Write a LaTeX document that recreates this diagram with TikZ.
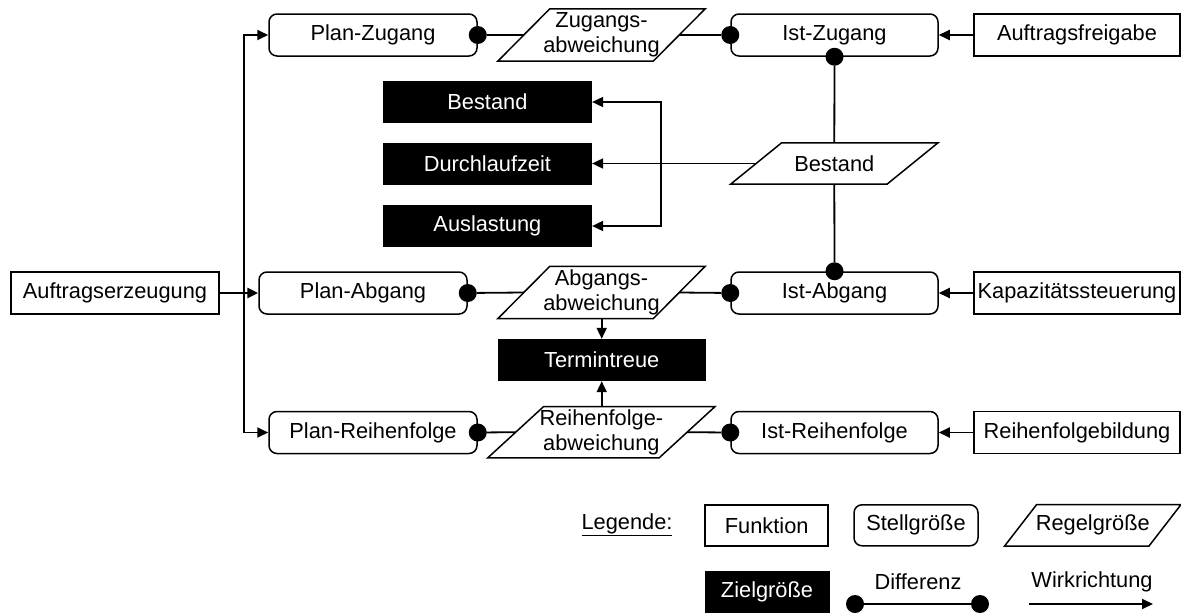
\documentclass[tikz,border=0pt]{standalone}
\usepackage{fontspec}
\setmainfont{Liberation Sans}
\usetikzlibrary{arrows.meta,calc}
\newcommand\regelbox[2]{%
  \draw[boxline] ([xshift=-#2]#1.south west) -- ([xshift=-#2]#1.south east)
    -- ([xshift=#2]#1.north east) -- ([xshift=#2]#1.north west) -- cycle;}
\begin{document}
\begin{tikzpicture}[x=1pt,y=-1pt,
  every node/.style={font=\fontsize{21.8}{24.5}\selectfont, inner sep=0pt, align=center},
  boxline/.style={line width=1.5pt},
  func/.style={draw, boxline, rectangle, minimum height=42pt},
  stell/.style={func, rounded corners=8pt},
  ziel/.style={rectangle, fill=black, text=white, minimum height=42pt},
  regel/.style={rectangle, minimum height=52pt},
  arr/.style={line width=1.8pt, -{Triangle[length=11pt,width=10pt]}},
  con/.style={line width=1.8pt},
  dotn/.style={circle, fill=black, inner sep=0pt, minimum size=18pt}]
\useasboundingbox (0,0) rectangle (1181,613);

% Funktionen
\node[func, minimum width=208pt] (auf) at (115,293) {Auftragserzeugung};
\node[func, minimum width=206pt] (afg) at (1077,35) {Auftragsfreigabe};
\node[func, minimum width=206pt] (kap) at (1077,293) {Kapazitätssteuerung};
\node[func, minimum width=206pt] (rfb) at (1077,432.5) {Reihenfolgebildung};

% Stellgroessen
\node[stell, minimum width=208pt] (pzu) at (373,35) {Plan-Zugang};
\node[stell, minimum width=208pt] (pab) at (363,293) {Plan-Abgang};
\node[stell, minimum width=208pt] (prf) at (373,432.5) {Plan-Reihenfolge};
\node[stell, minimum width=207pt] (izu) at (834.5,35) {Ist-Zugang};
\node[stell, minimum width=207pt] (iab) at (834.5,293) {Ist-Abgang};
\node[stell, minimum width=207pt] (irf) at (834.5,432.5) {Ist-Reihenfolge};

% Regelgroessen
\node[regel, minimum width=155pt] (zug) at (601.5,35) {Zugangs-\\abweichung};
\regelbox{zug}{26pt}
\node[regel, minimum width=155pt] (abw) at (601.5,292.5) {Abgangs-\\abweichung};
\regelbox{abw}{26pt}
\node[regel, minimum width=171pt, minimum height=51pt] (rfa) at (601.4,432.2) {Reihenfolge-\\abweichung};
\regelbox{rfa}{28pt}
\node[regel, minimum width=156pt, minimum height=41pt] (bes) at (834.3,163.5) {Bestand};
\regelbox{bes}{25.5pt}

% Zielgroessen
\node[ziel, minimum width=209pt] (zb) at (487.4,102) {Bestand};
\node[ziel, minimum width=209pt] (zd) at (487.4,163.5) {Durchlaufzeit};
\node[ziel, minimum width=209pt] (za) at (487.4,226) {Auslastung};
\node[ziel, minimum width=208pt] (term) at (601.7,360) {Termintreue};

% Wirkrichtungen
\coordinate (sp) at (244,293);
\draw[arr, line width=2.8pt] (auf.east) -- (pab.west);
\draw[arr] (sp) |- (pzu.west);
\draw[arr] (sp) |- (prf.west);
\draw[arr] (afg.west) -- (izu.east);
\draw[arr] (kap.west) -- (iab.east);
\draw[arr] (rfb.west) -- (irf.east);
\coordinate (j) at (661,163.5);
\draw[arr] (bes.west) -- (zd.east);
\draw[arr] (j) |- (zb.east);
\draw[arr] (j) |- (za.east);
\draw[arr] (term.north |- abw.south) -- (term.north);
\draw[arr] (term.south |- rfa.north) -- (term.south);

% Differenzen
\node[dotn] (d1) at (pzu.east) {};
\node[dotn] (d2) at (izu.west) {};
\node[dotn] (d3) at (pab.east) {};
\node[dotn] (d4) at (iab.west) {};
\node[dotn] (d5) at (prf.east) {};
\node[dotn] (d6) at (irf.west) {};
\node[dotn] (d7) at (izu.south) {};
\node[dotn] (d8) at (iab.north) {};
\draw[con] (d1) -- (zug.west);
\draw[con] (zug.east) -- (d2);
\draw[con] (d3) -- (abw.west);
\draw[con] (abw.east) -- (d4);
\draw[con] (d5) -- (rfa.west);
\draw[con] (rfa.east) -- (d6);
\draw[con] (d7) -- (bes.north);
\draw[con] (bes.south) -- (d8);

% Legende
\node (leg) at (627,525) {\underline{Legende:}};
\node[func, minimum width=123pt, minimum height=41pt] (lf) at (766.7,525.3) {Funktion};
\node[stell, minimum width=124pt, minimum height=41pt] (ls) at (916,525.3) {Stellgröße};
\node[regel, minimum width=144pt, minimum height=41pt] (lr) at (1092.8,525.3) {Regelgröße};
\regelbox{lr}{16pt}
\node[ziel, minimum width=125pt, minimum height=42pt] (lz) at (767,592.3) {Zielgröße};
\node[dotn] (ld1) at (855,604) {};
\node[dotn] (ld2) at (980,604) {};
\draw[con] (ld1) -- (ld2);
\node (ldt) at (918,582) {Differenz};
\coordinate (lw1) at (1029,604);
\coordinate (lw2) at (1153,604);
\draw[arr] (lw1) -- (lw2);
\node (lwt) at (1092,582) {Wirkrichtung};
\end{tikzpicture}
\end{document}
